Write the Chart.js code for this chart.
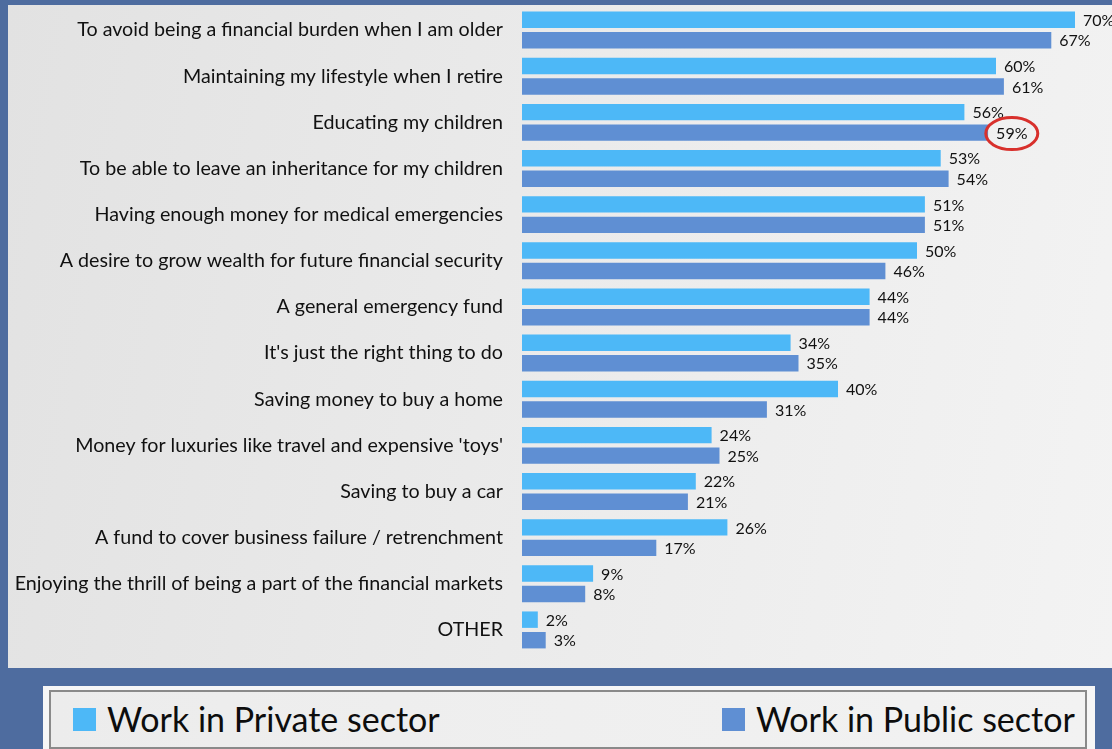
<!DOCTYPE html>
<html>
<head>
<meta charset="utf-8">
<script src="https://cdn.jsdelivr.net/npm/chart.js@4"></script>
<style>
  html, body { margin: 0; padding: 0; }
  body { width: 1112px; height: 749px; background: #4e6c9f; position: relative; overflow: hidden; font-family: Lato, sans-serif; }
  #panel { position: absolute; left: 8px; top: 5px; width: 1104px; height: 663px;
           background: linear-gradient(100deg, #e2e2e2 0%, #ebebeb 50%, #f3f3f3 100%); }
  #legendOuter { position: absolute; left: 43px; top: 686px; width: 1052px; height: 70px; background: #f6f6f6; }
  #legend { position: absolute; left: 6px; top: 4px; width: 1034px; height: 55px; border: 2px solid #8a8a8a;
            background: linear-gradient(90deg, #ececec, #f2f2f2); }
  .item { position: absolute; top: 9px; font-size: 34px; color: #0d0d0d; display: flex; align-items: center; line-height: 36px; }
  .sw { width: 23px; height: 23px; margin-right: 11px; }
</style>
</head>
<body>
<div id="panel"><canvas id="savingsChart"></canvas></div>
<div id="legendOuter">
  <div id="legend">
    <div class="item" style="left:22px"><span class="sw" style="background:#4db8f7"></span>Work in Private sector</div>
    <div class="item" style="left:671px"><span class="sw" style="background:#5f8fd3"></span>Work in Public sector</div>
  </div>
</div>
<script>
document.addEventListener("DOMContentLoaded", function () {
    const categories = [
        "To avoid being a financial burden when I am older",
        "Maintaining my lifestyle when I retire",
        "Educating my children",
        "To be able to leave an inheritance for my children",
        "Having enough money for medical emergencies",
        "A desire to grow wealth for future financial security",
        "A general emergency fund",
        "It's just the right thing to do",
        "Saving money to buy a home",
        "Money for luxuries like travel and expensive 'toys'",
        "Saving to buy a car",
        "A fund to cover business failure / retrenchment",
        "Enjoying the thrill of being a part of the financial markets",
        "OTHER"
    ];
    const privateSector = [70, 60, 56, 53, 51, 50, 44, 34, 40, 24, 22, 26, 9, 2];
    const publicSector = [67, 61, 59, 54, 51, 46, 44, 35, 31, 25, 21, 17, 8, 3];

    // value labels next to the bars, plus the red circle around one of them
    const valueLabels = {
        id: 'valueLabels',
        afterDatasetsDraw(chart) {
            const ctx = chart.ctx;
            ctx.save();
            ctx.font = '16px Lato';
            ctx.fillStyle = '#111';
            ctx.textBaseline = 'middle';
            ctx.textAlign = 'left';
            chart.data.datasets.forEach((ds, di) => {
                const meta = chart.getDatasetMeta(di);
                meta.data.forEach((bar, i) => {
                    const txt = ds.data[i] + '%';
                    const x = bar.x + 8;
                    const y = bar.y + 1;
                    ctx.fillText(txt, x, y);
                    if (di === 1 && i === 2) {
                        const w = ctx.measureText(txt).width;
                        ctx.beginPath();
                        ctx.strokeStyle = '#d8302c';
                        ctx.lineWidth = 3;
                        ctx.ellipse(x + w / 2, y, 26, 16, 0, 0, Math.PI * 2);
                        ctx.stroke();
                    }
                });
            });
            ctx.restore();
        }
    };

    const ctx = document.getElementById('savingsChart').getContext('2d');
    new Chart(ctx, {
        type: 'bar',
        data: {
            labels: categories,
            datasets: [
                { label: 'Work in Private sector', data: privateSector, backgroundColor: '#4db8f7' },
                { label: 'Work in Public sector', data: publicSector, backgroundColor: '#5f8fd3' }
            ]
        },
        options: {
            indexAxis: 'y',
            responsive: true,
            maintainAspectRatio: false,
            animation: false,
            categoryPercentage: 0.89,
            barPercentage: 0.8,
            layout: { padding: { top: 2, bottom: 15, right: 37, left: 0 } },
            plugins: { legend: { display: false }, tooltip: { enabled: false } },
            scales: {
                x: { min: 0, max: 70, display: false },
                y: {
                    grid: { display: false, drawTicks: false },
                    border: { display: false },
                    ticks: { color: '#111', font: { family: 'Lato', size: 19.7 }, padding: 19, autoSkip: false },
                    afterFit: function (scale) {
                        scale.width = 514;
                        scale.paddingTop = 0;
                        scale.paddingBottom = 0;
                    }
                }
            }
        },
        plugins: [valueLabels]
    });
});
</script>
</body>
</html>
